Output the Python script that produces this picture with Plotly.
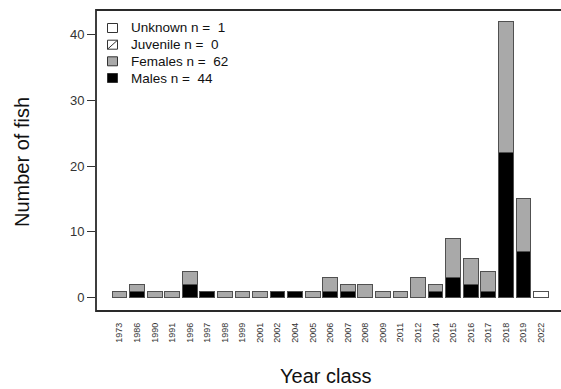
import plotly.graph_objects as go

years = ["1973", "1986", "1990", "1991", "1996", "1997", "1998", "1999", "2001", "2002",
         "2004", "2005", "2006", "2007", "2008", "2009", "2011", "2012", "2014", "2015",
         "2016", "2017", "2018", "2019", "2022"]
males = [0, 1, 0, 0, 2, 1, 0, 0, 0, 1, 1, 0, 1, 1, 0, 0, 0, 0, 1, 3, 2, 1, 22, 7, 0]
females = [1, 1, 1, 1, 2, 0, 1, 1, 1, 0, 0, 1, 2, 1, 2, 1, 1, 3, 1, 6, 4, 3, 20, 8, 0]
juveniles = [0] * 25
unknown = [0] * 24 + [1]
y_ticks = [0, 10, 20, 30, 40]

legend_labels = ["Unknown n = \u00a0" + str(sum(unknown)),
                 "Juvenile n = \u00a0" + str(sum(juveniles)),
                 "Females n = \u00a0" + str(sum(females)),
                 "Males n = \u00a0" + str(sum(males))]

# plot area in pixels
L, R, T, B = 96, 561, 10, 311
W, H = 389, 561


def px(x):
    return (x - L) / (R - L)


def py(y):
    return (B - y) / (B - T)


edge = "#505050"
fig = go.Figure()
fig.add_bar(x=years, y=males, marker=dict(color="black", line=dict(color=edge, width=1)), showlegend=False)
fig.add_bar(x=years, y=females, marker=dict(color="#A9A9A9", line=dict(color=edge, width=1)), showlegend=False)
fig.add_bar(x=years, y=juveniles, marker=dict(color="white", line=dict(width=0)), showlegend=False)
fig.add_bar(x=years, y=unknown, marker=dict(color="white", line=dict(color=edge, width=1)), showlegend=False)

shapes = [dict(type="rect", xref="paper", yref="paper", x0=0, x1=1.05, y0=0, y1=1,
               line=dict(color="#2a2a2a", width=1.8), layer="above")]
annotations = []
fills = ["white", "white", "#A9A9A9", "black"]
rows = [28, 44.7, 61.3, 78]
for lab, fc, ry in zip(legend_labels, fills, rows):
    shapes.append(dict(type="rect", xref="paper", yref="paper",
                       x0=px(107.5), x1=px(117.5), y0=py(ry + 4.5), y1=py(ry - 4.5),
                       fillcolor=fc, line=dict(color="#333", width=1)))
    annotations.append(dict(text=lab, xref="paper", yref="paper", x=px(129), y=py(ry),
                            xanchor="left", yanchor="middle", showarrow=False,
                            font=dict(size=13.5, color="#111")))
# hatch on juvenile symbol
shapes.append(dict(type="line", xref="paper", yref="paper", x0=px(107.5), x1=px(117.5),
                   y0=py(rows[1] + 4.5), y1=py(rows[1] - 4.5), line=dict(color="#333", width=1)))

annotations.append(dict(text="Year class", xref="paper", yref="paper", x=px(326), y=py(376),
                        xanchor="center", yanchor="middle", showarrow=False,
                        font=dict(size=20, color="#111")))
annotations.append(dict(text="Number of fish", xref="paper", yref="paper", x=px(22), y=py(162),
                        xanchor="center", yanchor="middle", showarrow=False, textangle=-90,
                        font=dict(size=20, color="#111")))

fig.update_layout(
    barmode="stack",
    bargap=0.16,
    width=H, height=W,
    margin=dict(l=L, r=0, t=T, b=W - B),
    paper_bgcolor="white", plot_bgcolor="white",
    font=dict(family="Liberation Sans, Arial, sans-serif"),
    shapes=shapes,
    annotations=annotations,
    showlegend=False,
)
fig.update_xaxes(type="category", range=[-1.338, 25.14], tickangle=-90,
                 tickfont=dict(size=9, color="#333"), ticks="", ticklabelstandoff=9,
                 showgrid=False, zeroline=False, showline=False)
fig.update_yaxes(range=[-2.02, 43.69], tickvals=y_ticks, ticks="outside", ticklen=8,
                 tickcolor="#333", tickwidth=1, tickfont=dict(size=13, color="#333"),
                 showgrid=False, zeroline=False, showline=False)

fig.write_html("out.html")
